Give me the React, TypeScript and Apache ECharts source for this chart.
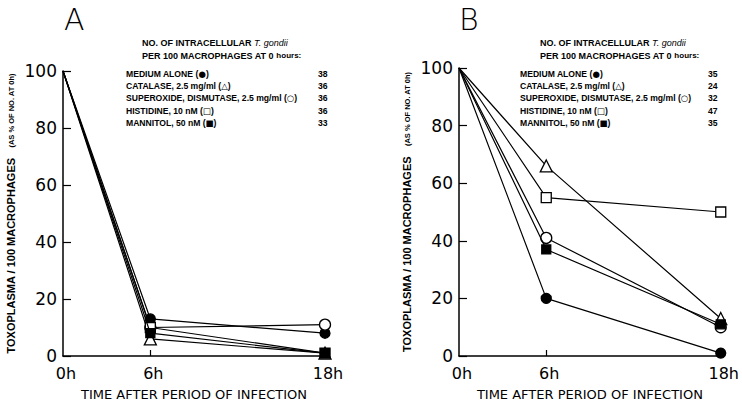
import React, { useEffect, useRef } from 'react';
import * as echarts from 'echarts';

const hours = [0, 6, 18];
const xLabelHours = [0, 6, 18];
const treatmentNames = [
  'MEDIUM ALONE',
  'CATALASE, 2.5 mg/ml',
  'SUPEROXIDE, DISMUTASE, 2.5 mg/ml',
  'HISTIDINE, 10 nM',
  'MANNITOL, 50 nM',
];
const treatmentKeys = ['●', '△', '○', '□', '■'];
const countsA = [38, 36, 36, 36, 33];
const countsB = [35, 24, 32, 47, 35];
const startValues = [100, 100, 100, 100, 100];
const panelA6h = [13, 6, 10, 10, 8];
const panelA18h = [8, 1, 11, 1, 1];
const panelB6h = [20, 66, 41, 55, 37];
const panelB18h = [1, 13, 10, 50, 11];
const markerShapes = ['circle', 'triangle', 'circle', 'rect', 'rect'];
const markerFills = ['#000', '#fff', '#fff', '#fff', '#000'];
const markerSizes = [10, 12, 11, 10, 9];

const FONT = '"Liberation Sans", Arial, sans-serif';
const WIDE = '"DejaVu Sans", sans-serif';

function buildSeries(panel: number, six: number[], eighteen: number[]) {
  return treatmentNames.map((name, i) => ({
    type: 'line',
    name: name + (panel === 0 ? ' A' : ' B'),
    xAxisIndex: panel,
    yAxisIndex: panel,
    symbol: markerShapes[i],
    symbolSize: markerSizes[i],
    showAllSymbol: true,
    z: 3 + i,
    lineStyle: { color: '#000', width: 1.2 },
    itemStyle: { color: markerFills[i], borderColor: '#000', borderWidth: 1.3 },
    data: [
      { value: [hours[0], startValues[i]], symbolSize: 0 },
      { value: [hours[1], six[i]] },
      { value: [hours[2], eighteen[i]] },
    ],
  }));
}

function xAxisFor(gridIndex: number) {
  return {
    gridIndex,
    type: 'value',
    min: 0,
    max: 18,
    interval: 6,
    name: 'TIME AFTER PERIOD OF INFECTION',
    nameLocation: 'middle',
    nameGap: 32,
    nameTextStyle: { fontFamily: WIDE, fontSize: 13, color: '#000' },
    axisLine: { lineStyle: { color: '#000', width: 1.5 } },
    axisTick: { inside: true, length: 6, customValues: [6], lineStyle: { color: '#000', width: 1.2 } },
    axisLabel: {
      customValues: xLabelHours,
      formatter: (v: number) => v + 'h',
      fontFamily: WIDE,
      fontSize: 16,
      color: '#000',
      margin: 9,
      padding: [0, 0, 0, 6],
    },
    splitLine: { show: false },
  };
}

function yAxisFor(gridIndex: number) {
  return {
    gridIndex,
    type: 'value',
    min: 0,
    max: 100,
    interval: 20,
    name: '{m|TOXOPLASMA / 100 MACROPHAGES}   {s|(AS % OF NO. AT 0h)}',
    nameLocation: 'middle',
    nameRotate: 90,
    nameGap: 46,
    nameTextStyle: {
      rich: {
        m: { fontFamily: FONT, fontSize: 11, fontWeight: 'bold', color: '#000' },
        s: { fontFamily: FONT, fontSize: 7.5, fontWeight: 'bold', color: '#000' },
      },
    },
    axisLine: { show: true, lineStyle: { color: '#000', width: 1.5 } },
    axisTick: { show: true, inside: true, length: 8, lineStyle: { color: '#000', width: 1.2 } },
    axisLabel: { fontFamily: WIDE, fontSize: 17, color: '#000', margin: 6 },
    splitLine: { show: false },
  };
}

function legendGraphics(left: number, headerLeft: number, numLeft: number, counts: number[]) {
  const els: any[] = [];
  els.push({
    type: 'text',
    left: headerLeft,
    top: 38,
    style: {
      text: 'NO. OF INTRACELLULAR {i|T. gondii}',
      font: 'bold 9px ' + FONT,
      fill: '#000',
      rich: { i: { fontStyle: 'italic', fontWeight: 'normal', fontSize: 9, fontFamily: FONT } },
    },
  });
  els.push({
    type: 'text',
    left: headerLeft,
    top: 51,
    style: {
      text: 'PER 100 MACROPHAGES AT 0 {s|hours:}',
      font: 'bold 9px ' + FONT,
      fill: '#000',
      rich: { s: { fontWeight: 'bold', fontSize: 8, fontFamily: FONT } },
    },
  });
  treatmentNames.forEach((name, i) => {
    const y = 69 + i * 12.4;
    els.push({
      type: 'text',
      left,
      top: y,
      style: {
        text: name + ' ({k|' + treatmentKeys[i] + '})',
        font: 'bold 8.6px ' + FONT,
        fill: '#000',
        rich: { k: { fontFamily: WIDE, fontSize: 8.5, fontWeight: 'bold' } },
      },
    });
    els.push({
      type: 'text',
      left: numLeft,
      top: y,
      style: { text: String(counts[i]), font: 'bold 8.6px ' + FONT, fill: '#000' },
    });
  });
  return els;
}

export default function App() {
  const ref = useRef<HTMLDivElement>(null);
  useEffect(() => {
    if (!ref.current) return;
    const chart = echarts.init(ref.current, null, { renderer: 'svg' });
    chart.setOption({
      animation: false,
      backgroundColor: '#fff',
      grid: [
        { left: 63, top: 71, width: 262, height: 285 },
        { left: 459, top: 68, width: 267, height: 288 },
      ],
      xAxis: [xAxisFor(0), xAxisFor(1)],
      yAxis: [yAxisFor(0), yAxisFor(1)],
      series: [...buildSeries(0, panelA6h, panelA18h), ...buildSeries(1, panelB6h, panelB18h)],
      graphic: [
        { type: 'text', left: 64, top: 4, style: { text: 'A', font: '300 30px "DejaVu Sans", sans-serif', fill: '#000' } },
        { type: 'text', left: 459, top: 4, style: { text: 'B', font: '300 30px "DejaVu Sans", sans-serif', fill: '#000' } },
        ...legendGraphics(126, 142, 318, countsA),
        ...legendGraphics(520, 540, 708, countsB),
      ],
    });
    return () => chart.dispose();
  }, []);
  return <div ref={ref} style={{ width: 742, height: 407, position: 'absolute', left: 0, top: 0 }} />;
}
